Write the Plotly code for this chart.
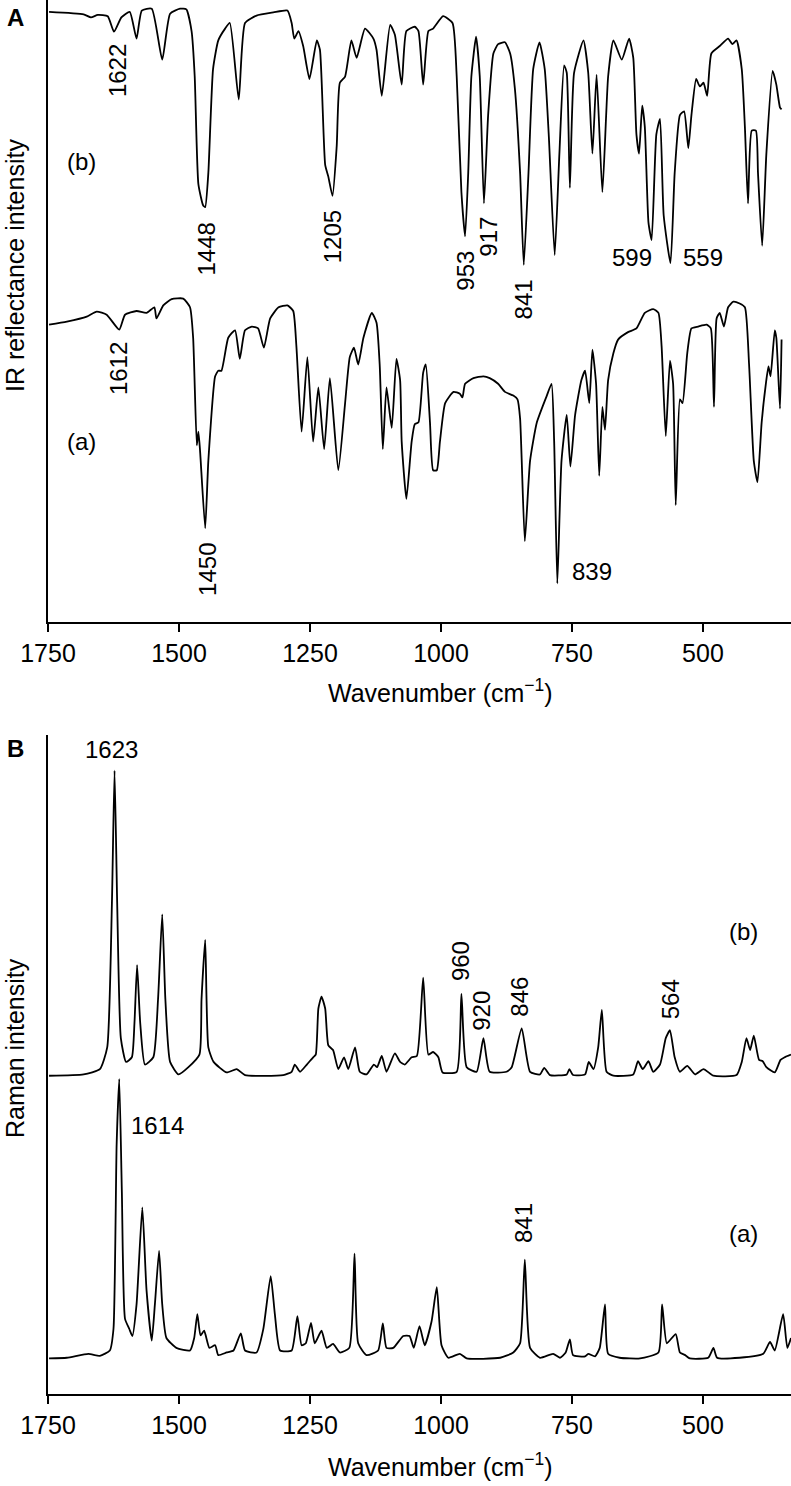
import plotly.graph_objects as go

# ---------------- data (arbitrary intensity units 0-100) ----------------
ir_b_wn = [1748, 1682, 1668, 1655, 1636, 1624, 1610, 1594, 1581, 1571, 1552, 1532, 1517, 1498, 1486,
           1476, 1470, 1463, 1454, 1450, 1444, 1435, 1425, 1412, 1403, 1386, 1374, 1352, 1320, 1293,
           1285, 1280, 1272, 1263, 1251, 1237, 1231, 1221, 1215, 1207, 1199, 1193, 1183, 1171, 1161,
           1145, 1129, 1123, 1113, 1097, 1088, 1075, 1066, 1050, 1043, 1034, 1024, 1015, 996, 978,
           970, 961, 954, 948, 942, 933, 926, 918, 910, 900, 891, 878, 868, 859, 849, 842, 833, 824,
           812, 802, 794, 783, 774, 765, 760, 754, 746, 728, 719, 711, 703, 692, 681, 671, 655, 641,
           633, 627, 622, 616, 611, 604, 598, 589, 582, 575, 562, 554, 544, 536, 528, 522, 513, 506,
           499, 492, 484, 468, 452, 444, 436, 426, 420, 414, 407, 399, 395, 387, 379, 367, 360, 353, 350]
ir_b_int = [98.1, 97.7, 97.2, 97.6, 97.4, 94.9, 97.2, 98.1, 93.8, 98.3, 98.6, 90.4, 97.8, 98.6, 98.5,
            95.0, 87.7, 70.4, 67.0, 66.7, 72.2, 88.9, 93.5, 95.4, 96.3, 84.0, 96.3, 97.5, 98.0, 98.3,
            96.3, 93.8, 95.0, 92.6, 87.3, 93.5, 92.0, 73.5, 71.6, 68.5, 76.5, 86.7, 87.7, 93.5, 90.7,
            95.4, 93.8, 92.0, 84.6, 96.0, 94.4, 86.4, 95.0, 95.7, 95.0, 86.4, 95.0, 95.4, 97.4, 96.3,
            87.7, 69.1, 62.0, 72.2, 87.7, 94.1, 87.7, 67.3, 81.5, 91.4, 92.9, 93.2, 91.4, 85.8, 72.2,
            57.4, 72.2, 88.9, 93.2, 88.9, 77.8, 59.0, 75.3, 89.5, 88.3, 69.8, 88.3, 93.5, 88.3, 75.3,
            88.0, 69.1, 87.7, 93.5, 90.4, 93.8, 90.7, 78.4, 75.3, 83.0, 79.6, 64.2, 61.4, 78.4, 80.9,
            65.4, 57.7, 72.2, 81.5, 82.1, 76.2, 81.5, 87.3, 86.1, 86.7, 84.6, 91.4, 92.6, 93.8, 92.9,
            93.5, 88.9, 79.6, 67.3, 79.0, 79.0, 72.2, 60.5, 75.3, 88.6, 86.4, 82.7, 82.4]

ir_a_wn = [1748, 1714, 1676, 1657, 1638, 1614, 1603, 1581, 1562, 1547, 1543, 1530, 1514, 1492, 1479,
           1473, 1466, 1463, 1460, 1450, 1444, 1431, 1425, 1419, 1406, 1393, 1384, 1374, 1361, 1349,
           1338, 1326, 1310, 1293, 1282, 1276, 1266, 1255, 1244, 1234, 1223, 1212, 1196, 1183, 1174,
           1166, 1158, 1148, 1132, 1123, 1117, 1111, 1104, 1094, 1085, 1078, 1075, 1066, 1056, 1050,
           1043, 1034, 1029, 1021, 1015, 1008, 1002, 992, 976, 964, 959, 954, 938, 919, 907, 891, 878,
           862, 854, 849, 840, 830, 817, 798, 789, 784, 778, 770, 760, 753, 744, 732, 725, 717, 711,
           704, 698, 692, 687, 681, 671, 662, 643, 627, 611, 595, 585, 579, 571, 563, 557, 552, 544,
           539, 530, 522, 509, 493, 485, 479, 474, 468, 460, 452, 442, 430, 420, 412, 403, 396, 388,
           380, 375, 371, 363, 360, 353, 350]
ir_a_int = [47.8, 48.3, 49.1, 49.9, 49.4, 47.0, 49.4, 50.0, 49.7, 50.6, 48.8, 50.9, 51.9, 52.0, 50.6,
            45.7, 28.4, 30.6, 27.8, 15.1, 25.9, 39.5, 40.4, 40.4, 45.7, 46.9, 42.3, 46.9, 47.5, 47.2,
            44.1, 48.8, 50.6, 50.9, 50.0, 44.4, 30.6, 42.6, 29.0, 37.7, 27.8, 39.2, 24.4, 35.2, 42.6,
            44.1, 41.4, 45.7, 49.7, 48.1, 41.4, 27.8, 37.7, 31.2, 42.3, 38.9, 29.0, 19.8, 29.0, 31.8,
            32.1, 40.1, 41.4, 32.1, 24.4, 24.4, 29.0, 35.2, 37.0, 36.7, 36.1, 38.3, 39.2, 39.5, 39.2,
            38.3, 37.0, 36.4, 35.8, 32.7, 13.0, 25.9, 32.1, 36.4, 38.3, 29.0, 6.2, 25.9, 33.3, 25.0,
            33.3, 38.9, 40.4, 35.2, 43.8, 38.3, 23.5, 34.6, 30.9, 38.9, 43.2, 45.4, 46.6, 47.2, 49.7,
            50.3, 49.7, 44.4, 29.9, 42.0, 38.3, 18.8, 35.8, 35.2, 43.2, 47.2, 47.5, 47.8, 47.2, 34.6,
            48.8, 49.7, 47.5, 50.6, 51.5, 51.2, 50.6, 41.4, 25.9, 22.5, 32.1, 38.3, 41.1, 39.5, 46.9,
            45.7, 34.3, 45.4]

raman_b_wn = [1748, 1682, 1651, 1637, 1628, 1623, 1618, 1611, 1601, 1590, 1585, 1580, 1574, 1565,
              1549, 1540, 1532, 1526, 1517, 1501, 1482, 1461, 1457, 1450, 1444, 1434, 1409, 1390,
              1374, 1301, 1285, 1279, 1269, 1256, 1244, 1239, 1234, 1228, 1221, 1215, 1206, 1196,
              1185, 1177, 1164, 1155, 1142, 1128, 1122, 1113, 1104, 1088, 1078, 1069, 1056, 1046,
              1034, 1024, 1015, 1005, 997, 970, 961, 951, 932, 919, 907, 875, 865, 846, 830, 811,
              803, 792, 760, 755, 748, 725, 718, 709, 700, 693, 684, 671, 633, 624, 615, 604, 595,
              582, 571, 563, 554, 544, 530, 515, 499, 480, 436, 426, 417, 410, 403, 393, 386, 379,
              363, 352, 344, 332]
raman_b_int = [48.3, 48.5, 49.3, 52.6, 74.6, 94.6, 74.6, 54.0, 50.4, 51.1, 56.3, 65.1, 56.3, 50.0,
               51.1, 59.9, 72.8, 59.9, 50.4, 48.5, 49.6, 51.5, 59.9, 68.9, 52.6, 50.4, 48.8, 49.3,
               48.4, 48.4, 48.9, 50.0, 48.9, 50.0, 51.1, 51.5, 58.5, 60.3, 58.5, 52.9, 52.2, 49.3,
               51.1, 49.3, 52.6, 48.9, 48.5, 50.0, 49.6, 51.3, 48.9, 51.7, 50.4, 50.0, 51.1, 51.3,
               63.2, 51.5, 51.9, 51.1, 48.8, 48.9, 60.7, 49.6, 48.9, 54.0, 48.9, 48.9, 49.6, 55.5,
               48.9, 48.5, 49.5, 48.4, 48.5, 49.3, 48.4, 48.5, 50.4, 49.3, 52.6, 58.3, 48.9, 48.3,
               48.5, 50.5, 49.3, 50.5, 48.9, 50.0, 54.0, 55.2, 51.1, 48.9, 49.8, 48.5, 49.3, 48.3,
               48.4, 50.4, 54.0, 52.2, 54.4, 50.7, 50.5, 49.6, 48.8, 50.7, 51.1, 51.5]

raman_a_wn = [1748, 1714, 1673, 1651, 1632, 1625, 1619, 1614, 1609, 1603, 1595, 1589, 1581, 1570,
              1562, 1552, 1546, 1538, 1532, 1524, 1505, 1479, 1471, 1465, 1459, 1452, 1442, 1431,
              1425, 1409, 1396, 1382, 1374, 1352, 1339, 1325, 1317, 1307, 1285, 1274, 1266, 1258,
              1248, 1241, 1228, 1218, 1206, 1193, 1175, 1165, 1158, 1142, 1120, 1111, 1104, 1091,
              1072, 1060, 1052, 1041, 1031, 1018, 1008, 999, 986, 964, 951, 887, 862, 849, 840, 830,
              811, 786, 773, 762, 754, 748, 725, 719, 706, 697, 687, 681, 659, 620, 585, 578, 569,
              552, 544, 534, 525, 490, 480, 473, 430, 385, 372, 363, 347, 339, 332]
raman_a_int = [5.4, 5.5, 6.1, 5.8, 6.6, 9.9, 37.9, 47.8, 30.5, 11.4, 9.9, 8.8, 13.6, 28.3,
               15.8, 8.1, 13.6, 21.7, 13.6, 8.5, 7.0, 6.6, 8.5, 12.1, 8.9, 9.6, 7.0, 7.4,
               5.9, 6.3, 6.6, 9.2, 6.6, 6.3, 9.9, 17.9, 12.1, 6.6, 6.6, 11.8, 7.4, 7.7,
               10.8, 7.7, 9.6, 7.0, 7.6, 6.3, 7.0, 21.3, 7.7, 5.9, 6.6, 10.7, 7.0, 7.0,
               8.8, 8.8, 7.0, 10.3, 7.4, 11.0, 16.2, 7.4, 5.5, 6.1, 5.4, 5.5, 6.3, 7.7, 20.4, 7.0,
               5.5, 6.1, 5.5, 6.3, 8.3, 5.9, 5.7, 6.1, 5.7, 7.0, 13.6, 6.1, 5.5, 5.4, 6.3, 13.6, 7.7,
               9.1, 6.3, 5.9, 5.4, 5.5, 7.0, 5.5, 5.5, 6.1, 7.9, 6.6, 12.1, 7.0, 8.5]

tick_vals = [1750, 1500, 1250, 1000, 750, 500]
tick_text = ["1750", "1500", "1250", "1000", "750", "500"]

# peak labels: (text, wavenumber, intensity, rotated)
ir_labels = [("1622", 1616, 88.6, True), ("1448", 1447, 60.0, True), ("1205", 1205.5, 61.9, True),
             ("953", 954, 56.5, True), ("917", 909.7, 62.0, True), ("841", 843, 51.9, True),
             ("599", 636, 58.6, False), ("559", 499.4, 58.6, False), ("1612", 1614, 40.7, True),
             ("1450", 1447, 8.5, True), ("839", 711.8, 8.2, False),
             ("(b)", 1686, 74.0, False), ("(a)", 1686, 29.0, False)]
raman_labels = [("1623", 1628.5, 97.8, False), ("1614", 1541.6, 40.7, False),
                ("960", 963.7, 65.7, True), ("920", 922.4, 58.1, True), ("846", 849.2, 60.3, True),
                ("564", 563, 59.9, True), ("841", 842.9, 26.0, True),
                ("(b)", 423, 70.2, False), ("(a)", 423, 24.3, False)]

FONT = "Liberation Sans, Arial, Helvetica, sans-serif"
line = dict(color="black", width=1.8, shape="spline", smoothing=0.5)

fig = go.Figure()
fig.add_trace(go.Scatter(x=ir_b_wn, y=ir_b_int, mode="lines", line=line, xaxis="x", yaxis="y"))
fig.add_trace(go.Scatter(x=ir_a_wn, y=ir_a_int, mode="lines", line=line, xaxis="x", yaxis="y"))
fig.add_trace(go.Scatter(x=raman_b_wn, y=raman_b_int, mode="lines", line=line, xaxis="x2", yaxis="y2"))
fig.add_trace(go.Scatter(x=raman_a_wn, y=raman_a_int, mode="lines", line=line, xaxis="x2", yaxis="y2"))

xcommon = dict(range=[1750, 332], tickvals=tick_vals, ticktext=tick_text, ticks="outside",
               ticklen=8, tickwidth=2, tickcolor="black", showline=True, linewidth=2,
               linecolor="black", showgrid=False, zeroline=False,
               tickfont=dict(family=FONT, size=25, color="black"))
ycommon = dict(range=[0, 100], showline=True, linewidth=2, linecolor="black", ticks="",
               showticklabels=False, showgrid=False, zeroline=False)

annotations = []
for t, xv, yv, rot in ir_labels:
    annotations.append(dict(text=t, x=xv, y=yv, xref="x", yref="y", showarrow=False,
                            xanchor="center", yanchor="middle",
                            textangle=-90 if rot else 0,
                            font=dict(family=FONT, size=24, color="black")))
for t, xv, yv, rot in raman_labels:
    annotations.append(dict(text=t, x=xv, y=yv, xref="x2", yref="y2", showarrow=False,
                            xanchor="center", yanchor="middle",
                            textangle=-90 if rot else 0,
                            font=dict(family=FONT, size=24, color="black")))


def paper_note(text, x, y, size, angle=0):
    return dict(text=text, x=x, y=y, xref="paper", yref="paper", showarrow=False,
                xanchor="center", yanchor="middle", textangle=angle,
                font=dict(family=FONT, size=size, color="black"))


annotations += [
    paper_note("<b>A</b>", -0.0444, 0.9878, 24),
    paper_note("<b>B</b>", -0.0431, 0.4627, 24),
    paper_note("IR reflectance intensity", -0.0444, 0.8092, 25, -90),
    paper_note("Raman intensity", -0.0444, 0.2482, 25, -90),
    paper_note("Wavenumber (cm<sup>\u22121</sup>)", 0.5276, 0.5043, 25),
    paper_note("Wavenumber (cm<sup>\u22121</sup>)", 0.5276, -0.0509, 25),
]

fig.update_layout(
    width=791, height=1486,
    margin=dict(l=48, r=0, t=0, b=92, pad=0),
    paper_bgcolor="white", plot_bgcolor="white",
    showlegend=False,
    xaxis=dict(domain=[0, 1], anchor="y", **xcommon),
    yaxis=dict(domain=[0.5538, 1.0], anchor="x", **ycommon),
    xaxis2=dict(domain=[0, 1], anchor="y2", **xcommon),
    yaxis2=dict(domain=[0.0, 0.4727], anchor="x2", **ycommon),
    annotations=annotations,
)

fig.write_html("out.html")
